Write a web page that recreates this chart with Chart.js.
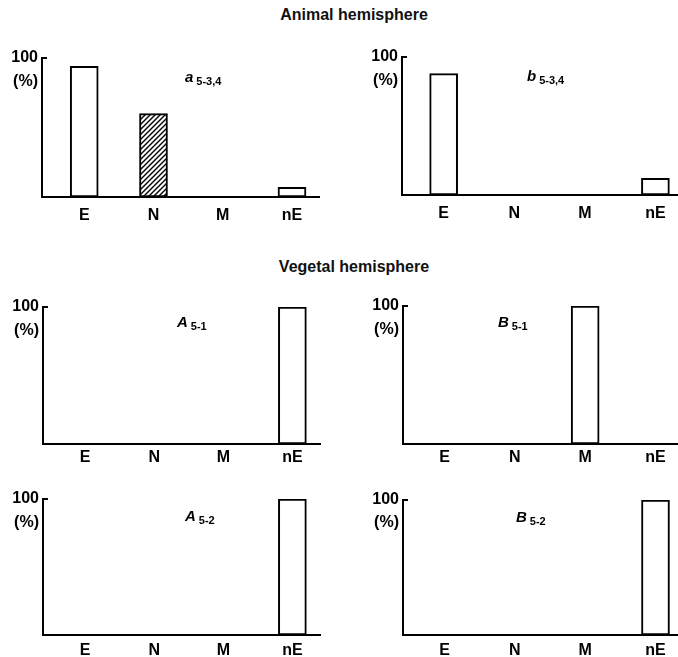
<!DOCTYPE html>
<html>
<head>
<meta charset="utf-8">
<title>Animal / Vegetal hemisphere</title>
<script src="https://cdn.jsdelivr.net/npm/chart.js@4.4.1/dist/chart.umd.min.js"></script>
<style>
  html, body { margin: 0; padding: 0; background: #fff; }
  body { width: 678px; height: 657px; position: relative; overflow: hidden;
         font-family: "Liberation Sans", Arial, Helvetica, sans-serif; }
  .title { position: absolute; left: 15px; width: 678px; text-align: center;
           font-size: 16px; font-weight: bold; line-height: 16px; color: #111; }
  canvas { position: absolute; }
</style>
</head>
<body>
<div class="title" style="top:7px">Animal hemisphere</div>
<div class="title" style="top:259px">Vegetal hemisphere</div>

<canvas id="pa" width="339" height="192" style="left:0;top:40px"></canvas>
<canvas id="pb" width="338" height="192" style="left:340px;top:40px"></canvas>
<canvas id="pA1" width="339" height="180" style="left:0;top:290px"></canvas>
<canvas id="pB1" width="338" height="180" style="left:340px;top:290px"></canvas>
<canvas id="pA2" width="339" height="177" style="left:0;top:480px"></canvas>
<canvas id="pB2" width="338" height="177" style="left:340px;top:480px"></canvas>

<script>
// values (percent per category)
const categories = ['E', 'N', 'M', 'nE'];
const yTickValues = [100, 83];
const yTickLabels = ['100', '(%)'];

const a534 = [94, 60, 0, 7];
const b534 = [88, 0, 0, 12];
const A51 = [0, 0, 0, 100];
const B51 = [0, 0, 100, 0];
const A52 = [0, 0, 0, 100];
const B52 = [0, 0, 0, 100];

const FONT = '"Liberation Sans", Arial, Helvetica, sans-serif';

function makeHatch() {
    const c = document.createElement('canvas');
    c.width = 5; c.height = 5;
    const g = c.getContext('2d');
    g.fillStyle = '#fff';
    g.fillRect(0, 0, 5, 5);
    g.strokeStyle = '#000';
    g.lineWidth = 1.4;
    g.beginPath();
    g.moveTo(0, 5); g.lineTo(5, 0);
    g.moveTo(-1, 1); g.lineTo(1, -1);
    g.moveTo(4, 6); g.lineTo(6, 4);
    g.stroke();
    return g.createPattern(c, 'repeat');
}
const hatch = makeHatch();

// panel label like "a" with subscript "5-3,4"
const noteLabel = {
    id: 'noteLabel',
    afterDraw(chart, args, opts) {
        const ctx = chart.ctx;
        ctx.save();
        ctx.fillStyle = '#000';
        ctx.textBaseline = 'middle';
        ctx.font = 'italic bold 15px ' + FONT;
        ctx.fillText(opts.letter, opts.x, opts.y);
        const w = ctx.measureText(opts.letter).width;
        ctx.font = 'bold 11px ' + FONT;
        ctx.fillText(opts.sub, opts.x + w + 3, opts.y + 4);
        ctx.restore();
    }
};

const panels = [
    { id: 'pa',  values: a534, letter: 'a', sub: '5-3,4', hatch: 'N',
      yWidth: 42, padTop: 18, xHeight: 35, padRight: 20, labelPad: 1, xMin: 0.39, xMax: 4.39, noteX: 185, noteY: 38 },
    { id: 'pb',  values: b534, letter: 'b', sub: '5-3,4', hatch: null,
      yWidth: 62, padTop: 17, xHeight: 37, padRight: 0, labelPad: 1, xMin: 0.41, xMax: 4.32, noteX: 187, noteY: 37 },
    { id: 'pA1', values: A51, letter: 'A', sub: '5-1', hatch: null,
      yWidth: 43, padTop: 17, xHeight: 26, padRight: 19, labelPad: -4, xMin: 0.39, xMax: 4.40, noteX: 177, noteY: 33 },
    { id: 'pB1', values: B51, letter: 'B', sub: '5-1', hatch: null,
      yWidth: 63, padTop: 16, xHeight: 26, padRight: 0, labelPad: -4, xMin: 0.41, xMax: 4.32, noteX: 158, noteY: 33 },
    { id: 'pA2', values: A52, letter: 'A', sub: '5-2', hatch: null,
      yWidth: 43, padTop: 19, xHeight: 22, padRight: 19, labelPad: -2, xMin: 0.39, xMax: 4.40, noteX: 185, noteY: 37 },
    { id: 'pB2', values: B52, letter: 'B', sub: '5-2', hatch: null,
      yWidth: 63, padTop: 20, xHeight: 22, padRight: 0, labelPad: -2, xMin: 0.41, xMax: 4.32, noteX: 176, noteY: 38 }
];

panels.forEach(p => {
    new Chart(document.getElementById(p.id), {
        type: 'bar',
        data: {
            datasets: [{
                data: p.values.map((v, i) => ({ x: i + 1, y: v })),
                backgroundColor: categories.map(c => c === p.hatch ? hatch : '#fff'),
                borderColor: '#000',
                borderWidth: 2,
                borderSkipped: false,
                barThickness: 28
            }]
        },
        options: {
            responsive: false,
            animation: false,
            layout: { padding: { top: p.padTop, right: p.padRight, left: 0, bottom: 0 } },
            plugins: {
                legend: { display: false },
                tooltip: { enabled: false },
                noteLabel: { letter: p.letter, sub: p.sub, x: p.noteX, y: p.noteY }
            },
            scales: {
                x: {
                    type: 'linear',
                    offset: false,
                    min: p.xMin,
                    max: p.xMax,
                    grid: { display: false, offset: false },
                    border: { display: true, color: '#000', width: 2 },
                    afterBuildTicks: scale => {
                        scale.ticks = categories.map((c, i) => ({ value: i + 1 }));
                    },
                    afterFit: scale => {
                        scale.height = p.xHeight;
                        scale.paddingLeft = 0;
                        scale.paddingRight = 0;
                    },
                    ticks: {
                        color: '#000',
                        padding: p.labelPad,
                        maxRotation: 0,
                        autoSkip: false,
                        font: { family: FONT, size: 16, weight: 'bold' },
                        callback: v => categories[v - 1]
                    }
                },
                y: {
                    min: 0,
                    max: 100,
                    grid: {
                        drawOnChartArea: false,
                        drawTicks: true,
                        tickLength: -5,
                        lineWidth: 2,
                        tickColor: ctx => (ctx.tick && ctx.tick.value === 100) ? '#000' : 'rgba(0,0,0,0)'
                    },
                    border: { display: true, color: '#000', width: 2 },
                    afterBuildTicks: scale => {
                        scale.ticks = yTickValues.map(v => ({ value: v }));
                    },
                    afterFit: scale => {
                        scale.width = p.yWidth;
                        scale.paddingTop = 0;
                        scale.paddingBottom = 0;
                    },
                    ticks: {
                        color: '#000',
                        padding: 9,
                        autoSkip: false,
                        font: { family: FONT, size: 16, weight: 'bold' },
                        callback: v => yTickLabels[yTickValues.indexOf(v)]
                    }
                }
            }
        },
        plugins: [noteLabel]
    });
});
</script>
</body>
</html>
